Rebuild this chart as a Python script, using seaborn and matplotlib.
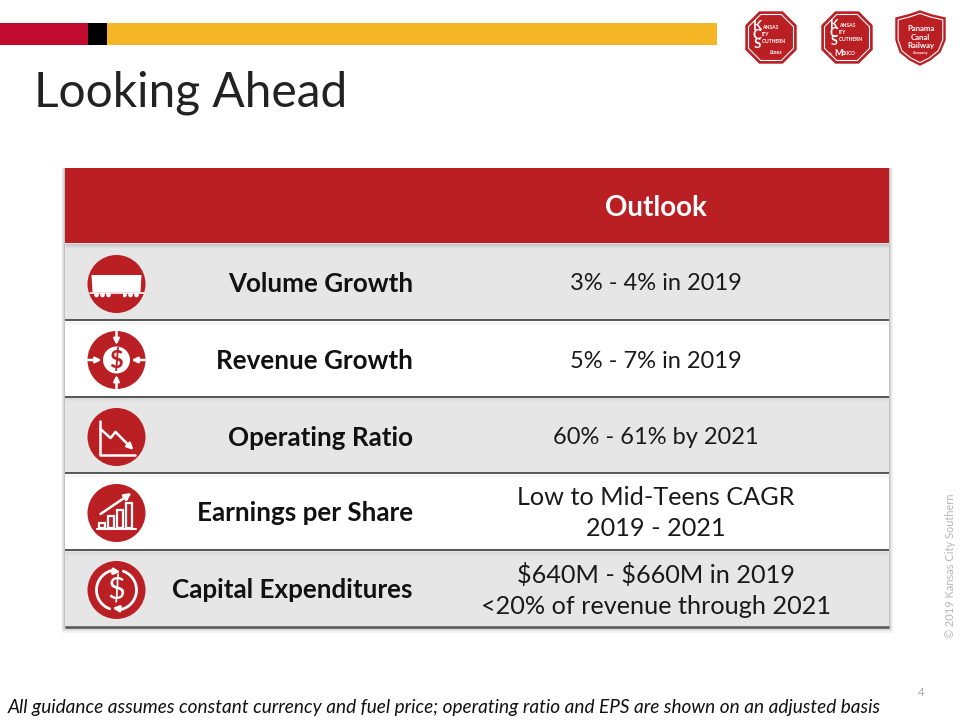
import numpy as np
import pandas as pd
import matplotlib
matplotlib.use("Agg")
import matplotlib.pyplot as plt
from matplotlib.colors import ListedColormap
from matplotlib.patches import Circle, Polygon, Rectangle, FancyArrowPatch
import seaborn as sns

title = "Looking Ahead"
header = "Outlook"
metrics = ["Volume Growth", "Revenue Growth", "Operating Ratio", "Earnings per Share", "Capital Expenditures"]
outlook = ["3% - 4% in 2019", "5% - 7% in 2019", "60% - 61% by 2021",
           "Low to Mid-Teens CAGR\n2019 - 2021",
           "$640M - $660M in 2019\n<20% of revenue through 2021"]
band_codes = [0, 1, 2, 1, 2, 1]   # header, grey, white, grey, white, grey
band_colors = ["#BA1F24", "#E6E6E6", "#FFFFFF"]
footnote = "All guidance assumes constant currency and fuel price; operating ratio and EPS are shown on an adjusted basis"
copyright_text = "© 2019 Kansas City Southern"
page = "4"

RED = "#BA1F24"
FONT = "Lato"
sns.set_theme(style="white")
plt.rcParams["font.family"] = [FONT, "DejaVu Sans"]
plt.rcParams["text.parse_math"] = False

W, H = 960, 720
fig = plt.figure(figsize=(W / 100, H / 100), dpi=100, facecolor="white")
bg = fig.add_axes([0, 0, 1, 1])
bg.set_xlim(0, W); bg.set_ylim(H, 0); bg.axis("off")

# soft shadow round the table (right, left, bottom)
for i in range(5, 0, -1):
    bg.add_patch(Rectangle((65 - i * .7, 168), 824 + 1.4 * i, 459 + 1.1 * i,
                           fc="#000000", alpha=0.05, lw=0))

# table bands
T = (65, 168, 824, 459)
tab = fig.add_axes([T[0] / W, 1 - (T[1] + T[3]) / H, T[2] / W, T[3] / H])
df = pd.DataFrame({"band": band_codes})
sns.heatmap(df, ax=tab, cmap=ListedColormap(band_colors), vmin=-.5, vmax=2.5,
            cbar=False, xticklabels=False, yticklabels=False)
tab.set_xlabel(""); tab.set_ylabel("")
tab.set_ylim(6, 0.02)
tab.hlines(range(2, 6), 0, 1, color="#555555", lw=1.4, clip_on=False)
tab.hlines([6], 0, 1, color="#555555", lw=1.8, clip_on=False)
for k in range(1, 6):
    for j in range(1, 5):
        tab.hlines(k + j * .013 + (0.01 if k > 1 else 0), 0, 1, color="black",
                   alpha=(0.10 if k == 1 else 0.035) * (5 - j) / 4, lw=1)

ov = fig.add_axes([0, 0, 1, 1], zorder=5)
ov.set_xlim(0, W); ov.set_ylim(H, 0); ov.axis("off"); ov.patch.set_alpha(0)

# top stripes
for x0, x1, c in [(0, 88, "#C20A2F"), (88, 107, "#000000"), (107, 717, "#F5B626")]:
    ov.add_patch(Rectangle((x0, 23), x1 - x0, 22, fc=c, lw=0))

ov.text(34, 93, title, fontsize=34.5, color="#222222", va="center", ha="left", fontweight="normal")

# text
centres = [283.5, 360.5, 437.5, 512.5, 590]
sizes = [17, 17, 17, 18.2, 18.2]
ov.text(656, 208, header, color="white", fontsize=20, fontweight="bold", ha="center", va="center")
for y, m, o, s in zip(centres, metrics, outlook, sizes):
    ov.text(413, y + .5, m, fontsize=18.7, fontweight="bold", color="#111111", ha="right", va="center")
    ov.text(656, y + .5, o, fontsize=s, color="#1A1A1A", ha="center", va="center", linespacing=1.4)

ov.text(8, 707, footnote, fontsize=13.65, style="italic", color="#111111", ha="left", va="center")
ov.text(950, 638, copyright_text, fontsize=7.9, color="#B5B5B5", rotation=90, ha="center", va="bottom")
ov.text(921, 693, page, fontsize=8, color="#A5A5A5", ha="center", va="center")

# icons
cx = 116.5
icon_y = [284, 360, 437, 513, 590]
R = 29
for y in icon_y:
    ov.add_patch(Circle((cx, y), R, fc=RED, lw=0))

def arrow(p, q, lw=1.8, ms=8):
    ov.add_patch(FancyArrowPatch(p, q, arrowstyle="-|>", mutation_scale=ms, color="white", lw=lw,
                                 shrinkA=0, shrinkB=0))

# 1 rail car
y = icon_y[0]
ov.add_patch(Polygon([(cx-25, y-9), (cx+25, y-9), (cx+24, y+8), (cx-24, y+8)], fc="white", lw=0))
ov.plot([cx-27, cx+27], [y+9, y+9], color="white", lw=1.2)
for dx in [-20, -14, -8, 8, 14, 20]:
    ov.add_patch(Circle((cx+dx, y+11), 2.3, fc="white", lw=0))
ov.add_patch(Rectangle((cx-6, y+8.5), 12, 4, fc=RED, lw=0))

# 2 dollar with inward arrows
y = icon_y[1]
ov.add_patch(Circle((cx, y), 13.5, fc="white", lw=0))
ov.text(cx, y, "$", color=RED, fontsize=17, fontweight="bold", ha="center", va="center")
for dx, dy in [(0, -1), (0, 1), (-1, 0), (1, 0)]:
    arrow((cx + dx*28.5, y + dy*28.5), (cx + dx*15, y + dy*15))

# 3 declining chart
y = icon_y[2]
ov.plot([cx-17, cx-17, cx+18], [y-16, y+18, y+18], color="white", lw=1.8)
xs = [cx-16, cx-6, cx-1, cx+17]
ys = [y-8, y+1, y-5, y+13]
ov.plot(xs[:3], ys[:3], color="white", lw=1.8)
arrow((xs[2], ys[2]), (xs[3], ys[3]), ms=9)

# 4 rising bars
y = icon_y[3]
ov.plot([cx-20, cx+19], [y+15.5, y+15.5], color="white", lw=1.5)
for dx, h in [(-15, 5), (-6, 12), (3, 18), (12, 25)]:
    ov.add_patch(Rectangle((cx+dx-3, y+15-h), 6.5, h, fc="none", ec="white", lw=1.6))
arrow((cx-16, y+1), (cx+15, y-20), ms=10)

# 5 dollar cycle
y = icon_y[4]
t = np.linspace(np.radians(105), np.radians(250), 40)
ov.plot(cx + 20*np.cos(t), y - 20*np.sin(t), color="white", lw=2)
t2 = t + np.pi
ov.plot(cx + 20*np.cos(t2), y - 20*np.sin(t2), color="white", lw=2)
arrow((cx-6, y-19), (cx-3+7, y-18), ms=9)
arrow((cx+6, y+19), (cx+3-7, y+18), ms=9)
ov.text(cx, y, "$", color="white", fontsize=22, ha="center", va="center")

# logos
def octagon(x0, x1, y0, y1, c=.27):
    w = x1 - x0
    d = c * w
    return [(x0+d, y0), (x1-d, y0), (x1, y0+d), (x1, y1-d), (x1-d, y1), (x0+d, y1), (x0, y1-d), (x0, y0+d)]

def logo_text(x, y, s, size, ha="left", **kw):
    kw.setdefault("fontweight", "bold")
    ov.text(x, y, s, color="white", fontsize=size, ha=ha, va="center", **kw)

for x0 in [746, 822]:
    x1 = x0 + 50
    ov.add_patch(Polygon(octagon(x0, x1, 12, 63), fc=RED, ec=RED, lw=1))
    ov.add_patch(Polygon(octagon(x0+2.5, x1-2.5, 14.5, 60.5), fc="none", ec="white", lw=.8))

logo_text(757, 35, "K\nC\nS", 9.5, ha="center", linespacing=.68, multialignment="center")
logo_text(762, 34.5, "ANSAS\nITY\nOUTHERN", 3.6, linespacing=1.6)
logo_text(770, 53, "Lines", 4.2, style="italic")

logo_text(834, 33, "K\nC\nS", 9, ha="center", linespacing=.62, multialignment="center")
logo_text(839, 32.5, "ANSAS\nITY\nOUTHERN", 3.6, linespacing=1.55)
logo_text(829, 54, "de", 2.4)
logo_text(834, 53.5, "M", 6.5)
logo_text(842, 53.5, "ÉXICO", 3.4)

sh = [(896, 18), (908, 15), (920, 11), (932, 15), (945, 18), (945, 40), (940, 52), (930, 60), (920, 65),
      (910, 60), (900, 52), (896, 40)]
ov.add_patch(Polygon(sh, fc=RED, ec=RED, lw=1))
inner = [(x + (920 - x)*.09, y + (38 - y)*.09) for x, y in sh]
ov.add_patch(Polygon(inner, fc="none", ec="white", lw=.8))
logo_text(920.5, 37, "Panama\nCanal\nRailway", 5.6, ha="center", linespacing=1.2, multialignment="center")
logo_text(920.5, 53, "Company", 2.6, ha="center")

fig.savefig("out.png", dpi=100)
